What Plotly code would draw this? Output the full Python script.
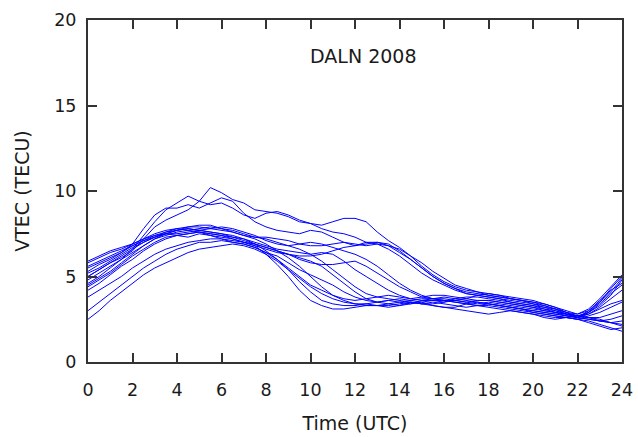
import plotly.graph_objects as go

hours = [0, 0.5, 1, 1.5, 2, 2.5, 3, 3.5, 4, 4.5, 5, 5.5, 6, 6.5, 7, 7.5, 8, 8.5, 9, 9.5,
         10, 10.5, 11, 11.5, 12, 12.5, 13, 13.5, 14, 14.5, 15, 15.5, 16, 16.5, 17, 17.5,
         18, 18.5, 19, 19.5, 20, 20.5, 21, 21.5, 22, 22.5, 23, 23.5, 24]

day_01 = [5.0, 5.4, 5.8, 6.1, 6.5, 7.2, 7.9, 8.3, 8.6, 8.9, 9.4, 10.2, 9.9, 9.5, 9.3, 8.9, 8.8, 8.7, 8.5, 8.2,
          8.1, 8.0, 8.2, 8.4, 8.4, 8.2, 7.6, 7.1, 6.7, 6.2, 5.8, 5.3, 4.9, 4.5, 4.3, 4.1,
          4.0, 3.9, 3.8, 3.7, 3.6, 3.4, 3.2, 2.9, 2.6, 2.9, 3.5, 4.3, 5.0]
day_02 = [4.6, 5.0, 5.5, 6.0, 6.6, 7.4, 8.2, 8.9, 9.3, 9.7, 9.4, 9.2, 9.3, 9.0, 8.6, 8.4, 8.7, 8.8, 8.6, 8.3,
          8.1, 7.8, 7.6, 7.5, 7.3, 7.0, 6.9, 6.8, 6.6, 6.2, 5.6, 5.1, 4.7, 4.4, 4.2, 4.1,
          3.9, 3.8, 3.7, 3.6, 3.4, 3.3, 3.1, 2.8, 2.6, 3.0, 3.6, 4.2, 4.6]
day_03 = [5.3, 5.7, 6.0, 6.4, 6.9, 7.8, 8.6, 9.0, 9.0, 9.2, 9.0, 9.3, 9.6, 9.4, 8.7, 8.2, 7.9, 7.7, 7.6, 7.5,
          7.7, 7.6, 7.3, 7.0, 6.8, 6.9, 7.0, 6.9, 6.5, 6.0, 5.5, 5.0, 4.6, 4.3, 4.0, 3.9,
          3.8, 3.7, 3.5, 3.4, 3.3, 3.1, 2.9, 2.7, 2.6, 2.8, 3.2, 3.7, 4.2]
day_04 = [5.6, 5.9, 6.2, 6.5, 6.8, 7.1, 7.4, 7.6, 7.7, 7.8, 7.7, 7.6, 7.5, 7.4, 7.2, 6.9, 6.5, 6.0, 5.4, 4.7,
          4.1, 3.6, 3.4, 3.3, 3.3, 3.4, 3.5, 3.6, 3.5, 3.4, 3.5, 3.6, 3.6, 3.5, 3.4, 3.3,
          3.3, 3.2, 3.1, 3.0, 2.9, 2.8, 2.7, 2.6, 2.5, 2.3, 2.1, 1.9, 2.0]
day_05 = [4.8, 5.2, 5.6, 6.0, 6.4, 6.8, 7.2, 7.4, 7.6, 7.7, 7.6, 7.4, 7.3, 7.2, 7.0, 6.8, 6.3, 5.7, 5.0, 4.2,
          3.6, 3.3, 3.1, 3.1, 3.2, 3.3, 3.3, 3.4, 3.5, 3.6, 3.7, 3.7, 3.8, 3.7, 3.6, 3.5,
          3.4, 3.3, 3.2, 3.1, 3.0, 2.9, 2.8, 2.7, 2.6, 2.5, 2.4, 2.3, 2.4]
day_06 = [5.2, 5.5, 5.9, 6.3, 6.7, 7.0, 7.3, 7.5, 7.7, 7.9, 7.9, 7.8, 7.7, 7.6, 7.4, 7.2, 6.9, 6.5, 6.1, 5.6,
          5.0, 4.4, 3.9, 3.6, 3.4, 3.4, 3.3, 3.3, 3.4, 3.5, 3.4, 3.4, 3.5, 3.6, 3.5, 3.4,
          3.5, 3.4, 3.3, 3.2, 3.1, 3.0, 2.9, 2.8, 2.7, 2.6, 2.4, 2.3, 2.2]
day_07 = [4.4, 4.8, 5.2, 5.7, 6.2, 6.6, 7.0, 7.3, 7.4, 7.5, 7.6, 7.5, 7.4, 7.3, 7.1, 6.9, 6.7, 6.5, 6.3, 6.1,
          5.9, 5.6, 5.1, 4.6, 4.1, 3.7, 3.5, 3.4, 3.3, 3.4, 3.6, 3.7, 3.7, 3.6, 3.5, 3.6,
          3.6, 3.5, 3.4, 3.3, 3.2, 3.0, 2.9, 2.8, 2.7, 2.8, 3.1, 3.4, 3.6]
day_08 = [5.8, 6.1, 6.4, 6.6, 6.9, 7.2, 7.4, 7.5, 7.5, 7.6, 7.7, 7.6, 7.5, 7.3, 7.2, 7.0, 6.8, 6.6, 6.5, 6.4,
          6.3, 6.4, 6.3, 5.9, 5.4, 5.0, 4.6, 4.2, 3.9, 3.7, 3.6, 3.6, 3.5, 3.7, 3.8, 3.8,
          3.7, 3.6, 3.5, 3.4, 3.3, 3.2, 3.0, 2.8, 2.6, 2.9, 3.4, 4.0, 4.5]
day_09 = [4.5, 4.9, 5.3, 5.8, 6.3, 6.8, 7.2, 7.5, 7.7, 7.8, 7.7, 7.8, 7.9, 7.8, 7.6, 7.4, 7.1, 6.9, 6.8, 6.9,
          7.0, 6.9, 6.7, 6.5, 6.3, 6.0, 5.6, 5.1, 4.6, 4.2, 3.9, 3.7, 3.6, 3.6, 3.7, 3.9,
          4.0, 3.9, 3.7, 3.6, 3.5, 3.3, 3.1, 2.9, 2.7, 2.9, 3.3, 3.9, 4.8]
day_10 = [5.5, 5.8, 6.1, 6.4, 6.8, 7.1, 7.3, 7.5, 7.4, 7.5, 7.6, 7.5, 7.4, 7.2, 7.0, 6.8, 6.6, 6.4, 6.3, 6.2,
          6.2, 6.3, 6.5, 6.7, 6.8, 7.0, 7.0, 6.8, 6.4, 6.0, 5.5, 5.0, 4.6, 4.3, 4.1, 4.0,
          3.9, 3.8, 3.7, 3.6, 3.5, 3.4, 3.2, 3.0, 2.8, 3.1, 3.7, 4.4, 5.1]
day_11 = [2.5, 3.0, 3.6, 4.1, 4.6, 5.1, 5.5, 5.8, 6.1, 6.4, 6.6, 6.7, 6.8, 6.9, 6.8, 6.6, 6.3, 5.9, 5.4, 4.9,
          4.4, 4.0, 3.7, 3.5, 3.4, 3.3, 3.3, 3.2, 3.3, 3.5, 3.4, 3.3, 3.2, 3.1, 3.0, 2.9,
          2.8, 2.9, 3.0, 2.9, 2.8, 2.7, 2.6, 2.6, 2.5, 2.4, 2.2, 2.0, 1.8]
day_12 = [3.0, 3.5, 4.0, 4.5, 5.0, 5.5, 5.9, 6.3, 6.6, 6.8, 7.0, 7.0, 7.1, 7.0, 6.9, 6.7, 6.4, 6.2, 5.8, 5.4,
          5.1, 4.8, 4.5, 4.1, 3.8, 3.6, 3.5, 3.6, 3.7, 3.6, 3.5, 3.3, 3.2, 3.2, 3.4, 3.5,
          3.4, 3.3, 3.2, 3.1, 3.0, 2.9, 2.8, 2.7, 2.6, 2.5, 2.4, 2.5, 2.7]
day_13 = [3.8, 4.2, 4.6, 5.0, 5.5, 5.9, 6.3, 6.6, 6.8, 7.0, 7.1, 7.2, 7.2, 7.1, 7.0, 6.9, 6.7, 6.5, 6.3, 6.0,
          5.8, 5.7, 5.7, 5.8, 5.9, 5.6, 5.2, 4.8, 4.4, 4.1, 3.8, 3.7, 3.6, 3.5, 3.4, 3.3,
          3.2, 3.1, 3.0, 2.9, 2.8, 2.6, 2.5, 2.6, 2.7, 2.6, 2.5, 2.3, 2.1]
day_14 = [5.0, 5.4, 5.8, 6.2, 6.6, 7.0, 7.3, 7.6, 7.8, 7.9, 8.0, 8.0, 7.8, 7.6, 7.4, 7.3, 7.3, 7.2, 7.1, 6.9,
          6.8, 6.8, 6.9, 7.0, 6.9, 6.8, 6.9, 6.6, 6.2, 5.7, 5.2, 4.8, 4.5, 4.2, 4.0, 3.9,
          3.8, 3.7, 3.6, 3.5, 3.4, 3.2, 3.1, 2.9, 2.8, 3.0, 3.5, 4.1, 4.9]
day_15 = [4.2, 4.6, 5.1, 5.6, 6.0, 6.5, 6.9, 7.2, 7.4, 7.3, 7.5, 7.4, 7.2, 7.0, 6.9, 6.7, 6.4, 6.0, 5.5, 5.0,
          4.5, 4.2, 3.9, 3.7, 3.6, 3.7, 3.8, 3.9, 3.8, 3.7, 3.8, 3.9, 3.9, 3.8, 3.7, 3.6,
          3.6, 3.5, 3.4, 3.3, 3.2, 3.1, 3.0, 2.8, 2.7, 2.6, 2.6, 2.8, 3.0]
day_16 = [5.9, 6.2, 6.5, 6.7, 6.9, 7.2, 7.5, 7.7, 7.8, 7.7, 7.8, 7.9, 7.8, 7.7, 7.5, 7.3, 7.2, 7.0, 6.8, 6.6,
          6.3, 5.9, 5.4, 4.9, 4.4, 4.0, 3.8, 3.7, 3.6, 3.5, 3.4, 3.5, 3.4, 3.3, 3.2, 3.3,
          3.4, 3.3, 3.2, 3.1, 2.9, 2.8, 2.7, 2.6, 2.5, 2.7, 2.9, 3.2, 3.5]

days = [day_01, day_02, day_03, day_04, day_05, day_06, day_07, day_08,
        day_09, day_10, day_11, day_12, day_13, day_14, day_15, day_16]

x_ticks = [0, 2, 4, 6, 8, 10, 12, 14, 16, 18, 20, 22, 24]
y_ticks = [0, 5, 10, 15, 20]

fig = go.Figure()
for d in days:
    fig.add_trace(go.Scatter(x=hours, y=d, mode="lines",
                             line=dict(color="#0000ff", width=1),
                             showlegend=False, hoverinfo="skip"))

tick_font = dict(family="DejaVu Sans", size=17.5, color="#1a1a1a")
title_font = dict(family="DejaVu Sans", size=19, color="#1a1a1a")
axis_common = dict(showline=True, linewidth=2, linecolor="#333333", mirror="ticks",
                   ticks="inside", ticklen=9, tickwidth=2, tickcolor="#333333",
                   showgrid=False, zeroline=False, tickfont=tick_font, automargin=False)

fig.update_xaxes(range=[0, 24], tickvals=x_ticks, ticklabelstandoff=11,
                 title=dict(text="Time (UTC)", font=title_font, standoff=18), **axis_common)
fig.update_yaxes(range=[0, 20], tickvals=y_ticks, ticklabelstandoff=6,
                 title=dict(text="VTEC (TECU)", font=title_font, standoff=20), **axis_common)

fig.add_annotation(text="DALN 2008", xref="paper", yref="paper", x=0.515, y=0.895,
                   xanchor="center", yanchor="middle", showarrow=False,
                   font=dict(family="DejaVu Sans", size=19, color="#1a1a1a"))

fig.update_layout(width=638, height=437, margin=dict(l=88, r=16, t=20, b=75),
                  plot_bgcolor="white", paper_bgcolor="white")

fig.write_html("out.html")
